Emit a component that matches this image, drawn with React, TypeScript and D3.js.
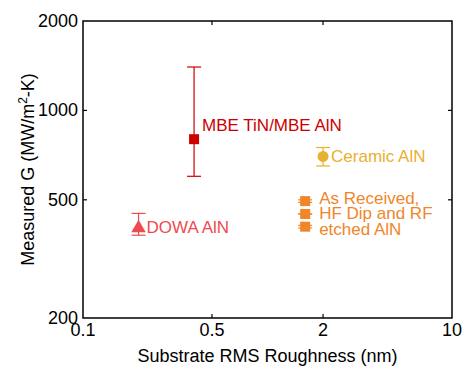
import React, { useEffect, useRef } from 'react';
import * as d3 from 'd3';

const xTicks = [0.1, 0.5, 2, 10];
const yTicks = [200, 500, 1000, 2000];

// each sample: roughness (nm), G, error low, error high
const samples = [
  { name: 'MBE', x: 0.4, y: 800, lo: 600, hi: 1400, shape: 'square', color: '#cc0000' },
  { name: 'Ceramic', x: 2.0, y: 700, lo: 650, hi: 750, shape: 'circle', color: '#e8b030' },
  { name: 'AsRec1', x: 1.6, y: 495, lo: 490, hi: 500, shape: 'square', color: '#f0862a' },
  { name: 'AsRec2', x: 1.6, y: 448, lo: 448, hi: 448, shape: 'square', color: '#f0862a' },
  { name: 'AsRec3', x: 1.6, y: 406, lo: 402, hi: 410, shape: 'square', color: '#f0862a' },
  { name: 'DOWA', x: 0.2, y: 405, lo: 380, hi: 450, shape: 'triangle', color: '#f04a50' },
];

const labels = [
  { lines: ['MBE TiN/MBE AlN'], x: 0.4, y: 800, dx: 8, dy: -8, color: '#cc0000' },
  { lines: ['Ceramic AlN'], x: 2.0, y: 700, dx: 8, dy: 6, color: '#e8b030' },
  { lines: ['As Received,', 'HF Dip and RF', 'etched AlN'], x: 1.6, y: 448, dx: 14, dy: -10, color: '#f0862a' },
  { lines: ['DOWA AlN'], x: 0.2, y: 405, dx: 8, dy: 6.5, color: '#f04a50' },
];

const App = () => {
  const ref = useRef<SVGSVGElement>(null);

  useEffect(() => {
    const svg = d3.select(ref.current);
    svg.selectAll('*').remove();

    const m = { l: 83, t: 21, r: 12, b: 52 };
    const width = 464;
    const height = 370;
    const x = d3.scaleLog().domain([0.1, 10]).range([m.l, width - m.r]);
    const y = d3.scaleLog().domain([200, 2000]).range([height - m.b, m.t]);
    const font = 'Arial, "Liberation Sans", sans-serif';

    const g = svg.append('g');

    // frame
    g.append('rect')
      .attr('x', m.l)
      .attr('y', m.t)
      .attr('width', x(10) - x(0.1))
      .attr('height', y(200) - y(2000))
      .attr('fill', 'none')
      .attr('stroke', '#000')
      .attr('stroke-width', 1.5);

    const tl = 4;
    // inward ticks on all four sides
    xTicks.slice(1, -1).forEach(t => {
      g.append('line').attr('x1', x(t)).attr('x2', x(t)).attr('y1', y(200)).attr('y2', y(200) - tl).attr('stroke', '#000').attr('stroke-width', 1.2);
      g.append('line').attr('x1', x(t)).attr('x2', x(t)).attr('y1', y(2000)).attr('y2', y(2000) + tl).attr('stroke', '#000').attr('stroke-width', 1.2);
    });
    yTicks.slice(1, -1).forEach(t => {
      g.append('line').attr('x1', x(0.1)).attr('x2', x(0.1) + tl).attr('y1', y(t)).attr('y2', y(t)).attr('stroke', '#000').attr('stroke-width', 1.2);
      g.append('line').attr('x1', x(10)).attr('x2', x(10) - tl).attr('y1', y(t)).attr('y2', y(t)).attr('stroke', '#000').attr('stroke-width', 1.2);
    });

    g.selectAll('.xt')
      .data(xTicks)
      .join('text')
      .attr('x', d => x(d))
      .attr('y', y(200) + 18)
      .attr('text-anchor', 'middle')
      .attr('font-family', font)
      .attr('font-size', 18)
      .text(d => String(d));

    g.selectAll('.yt')
      .data(yTicks)
      .join('text')
      .attr('x', m.l - 5)
      .attr('y', d => y(d) + 6)
      .attr('text-anchor', 'end')
      .attr('font-family', font)
      .attr('font-size', 18)
      .text(d => String(d));

    g.append('text')
      .attr('x', (x(0.1) + x(10)) / 2)
      .attr('y', 362)
      .attr('text-anchor', 'middle')
      .attr('font-family', font)
      .attr('font-size', 18)
      .text('Substrate RMS Roughness (nm)');

    const yl = g.append('text')
      .attr('transform', `translate(34, ${(y(200) + y(2000)) / 2}) rotate(-90)`)
      .attr('text-anchor', 'middle')
      .attr('font-family', font)
      .attr('font-size', 18);
    yl.append('tspan').text('Measured G (MW/m');
    yl.append('tspan').attr('font-size', 12).attr('dy', -7).text('2');
    yl.append('tspan').attr('dy', 7).text('-K)');

    // error bars
    samples.forEach(s => {
      const cx = x(s.x);
      const cw = 7;
      g.append('line').attr('x1', cx).attr('x2', cx).attr('y1', y(s.lo)).attr('y2', y(s.hi)).attr('stroke', s.color).attr('stroke-width', 1.2);
      [s.lo, s.hi].forEach(v => {
        g.append('line').attr('x1', cx - cw).attr('x2', cx + cw).attr('y1', y(v)).attr('y2', y(v)).attr('stroke', s.color).attr('stroke-width', 1.2);
      });
      const cy = y(s.y);
      if (s.shape === 'square') {
        g.append('rect').attr('x', cx - 5).attr('y', cy - 5).attr('width', 10).attr('height', 10).attr('fill', s.color);
      } else if (s.shape === 'circle') {
        g.append('circle').attr('cx', cx).attr('cy', cy).attr('r', 5.5).attr('fill', s.color);
      } else {
        g.append('path')
          .attr('d', d3.symbol(d3.symbolTriangle, 90)())
          .attr('transform', `translate(${cx}, ${cy + 1})`)
          .attr('fill', s.color);
      }
    });

    labels.forEach(l => {
      const t = g.append('text')
        .attr('font-family', font)
        .attr('font-size', 17)
        .attr('fill', l.color);
      l.lines.forEach((line, i) => {
        t.append('tspan')
          .attr('x', x(l.x) + l.dx)
          .attr('y', y(l.y) + l.dy + i * 15.5)
          .text(line);
      });
    });
  }, []);

  return <svg ref={ref} width={464} height={370} style={{ position: 'absolute', left: 0, top: 0, background: '#fff' }} />;
};

export default App;
